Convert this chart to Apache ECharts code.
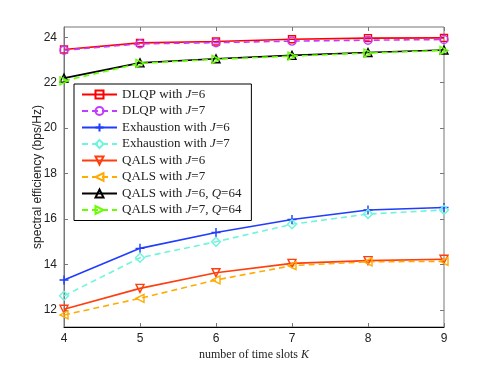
<!DOCTYPE html>
<html><head><meta charset="utf-8">
<script src="https://cdn.jsdelivr.net/npm/echarts@6/dist/echarts.min.js"></script>
<style>html,body{margin:0;padding:0;background:#fff}#c{width:491px;height:369px}</style>
</head><body><div id="c"></div>
<script>
var K = [4, 5, 6, 7, 8, 9];
var yTicks = [12, 14, 16, 18, 20, 22, 24];
var dlqpJ6 = [23.46, 23.75, 23.81, 23.91, 23.96, 23.97];
var dlqpJ7 = [23.43, 23.71, 23.76, 23.83, 23.87, 23.90];
var exhJ6 = [13.32, 14.71, 15.41, 15.98, 16.40, 16.51];
var exhJ7 = [12.62, 14.30, 15.00, 15.77, 16.22, 16.40];
var qalsJ6 = [12.03, 12.95, 13.64, 14.05, 14.17, 14.23];
var qalsJ7 = [11.78, 12.51, 13.32, 13.95, 14.12, 14.14];
var qalsJ6Q = [22.20, 22.87, 23.05, 23.20, 23.33, 23.44];
var qalsJ7Q = [22.08, 22.85, 23.03, 23.17, 23.30, 23.42];
var names = ['DLQP with J=6','DLQP with J=7','Exhaustion with J=6','Exhaustion with J=7','QALS with J=6','QALS with J=7','QALS with J=6, Q=64','QALS with J=7, Q=64'];

var serif = '"Liberation Serif", "DejaVu Serif", serif';
var sans = '"Liberation Sans", Arial, sans-serif';
function pairs(a){ return a.map(function(v,i){ return [K[i], v]; }); }
function mk(name, data, color, symbol, dashed, size){
  return {
    name: name, type: 'line', data: pairs(data), color: color,
    symbol: symbol, symbolSize: size || 8, showSymbol: true,
    lineStyle: {color: color, width: 1.6, type: dashed ? [6,4] : 'solid'},
    itemStyle: {color: 'rgba(255,255,255,0)', borderColor: color, borderWidth: 1.4},
    animation: false
  };
}
var triDown = 'path://M-1,-1L1,-1L0,1Z';
var triLeft = 'path://M1,-1L1,1L-1,0Z';
var triRight = 'path://M-1,-1L-1,1L1,0Z';
var triUp = 'path://M0,-1L1,1L-1,1Z';
var plus = 'path://M0,-1L0,1M-1,0L1,0';

var chart = echarts.init(document.getElementById('c'));
chart.setOption({
  backgroundColor: '#fff',
  animation: false,
  grid: {left: 64, right: 47, top: 27, bottom: 42, show: true, borderColor: '#777', borderWidth: 1},
  legend: {
    left: 74, top: 84, orient: 'vertical', data: names,
    backgroundColor: '#fff', borderColor: '#000', borderWidth: 1,
    padding: [4, 10, 4, 7], itemGap: 3.5, itemWidth: 35, itemHeight: 10,
    formatter: function(n){ return n.replace(/([JQ])=/g, '{i|$1}='); },
    textStyle: {fontFamily: serif, fontSize: 13, color: '#222', lineHeight: 13,
      rich: {i: {fontFamily: serif, fontStyle: 'italic', fontSize: 13, color: '#222'}}}
  },
  xAxis: [{
    type: 'value', min: 4, max: 9, interval: 1, position: 'bottom',
    name: 'number of time slots {i|K}', nameLocation: 'middle', nameGap: 21.5, nameMoveOverlap: false,
    nameTextStyle: {fontFamily: serif, fontSize: 12, color: '#222',
      rich: {i: {fontFamily: serif, fontStyle: 'italic', fontSize: 12, color: '#222'}}},
    axisLine: {show: true, lineStyle: {color: '#000', width: 1}},
    axisTick: {show: true, inside: true, length: 4, lineStyle: {color: '#777'}},
    axisLabel: {fontFamily: sans, fontSize: 12, color: '#222', margin: 6},
    splitLine: {show: false}
  }, {
    type: 'value', min: 4, max: 9, interval: 1, position: 'top',
    axisLine: {show: false}, axisTick: {show: true, inside: true, length: 4, lineStyle: {color: '#777'}},
    axisLabel: {show: false}, splitLine: {show: false}
  }],
  yAxis: [{
    type: 'value', min: 11.25, max: 24.45, position: 'left',
    name: 'spectral efficiency (bps/Hz)', nameLocation: 'middle', nameGap: 20, nameMoveOverlap: false,
    nameTextStyle: {fontFamily: sans, fontSize: 12, color: '#222'},
    axisLine: {show: true, lineStyle: {color: '#777', width: 1}},
    axisTick: {show: true, inside: true, length: 4, customValues: yTicks, lineStyle: {color: '#777'}},
    axisLabel: {fontFamily: sans, fontSize: 12, color: '#222', margin: 7, customValues: yTicks},
    splitLine: {show: false}
  }, {
    type: 'value', min: 11.25, max: 24.45, position: 'right',
    axisLine: {show: false},
    axisTick: {show: true, inside: true, length: 4, customValues: yTicks, lineStyle: {color: '#777'}},
    axisLabel: {show: false, customValues: yTicks}, splitLine: {show: false}
  }],
  series: [
    mk(names[0], dlqpJ6, '#ff0000', 'rect', false, 7),
    mk(names[1], dlqpJ7, '#c13cff', 'circle', true, 8),
    mk(names[2], exhJ6, '#1f3cff', plus, false, 9),
    mk(names[3], exhJ7, '#6ff5dc', 'diamond', true, 9),
    mk(names[4], qalsJ6, '#ff3d0d', triDown, false, 8),
    mk(names[5], qalsJ7, '#ffab00', triLeft, true, 8),
    mk(names[6], qalsJ6Q, '#000000', triUp, false, 8),
    mk(names[7], qalsJ7Q, '#66ff00', triRight, true, 8)
  ]
});
</script></body></html>
